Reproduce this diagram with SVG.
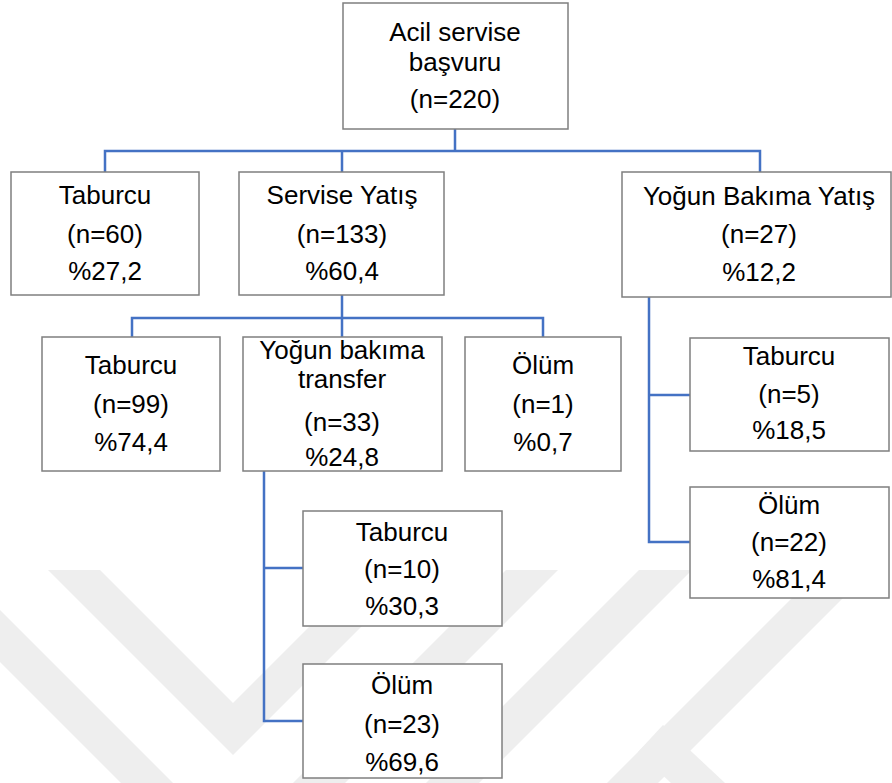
<svg xmlns="http://www.w3.org/2000/svg" width="892" height="783" viewBox="0 0 892 783">
<style>
.wm{fill:#eeeeee;stroke:none}
.box{fill:#ffffff;stroke:#7f7f7f;stroke-width:1.5}
.lbl{font-family:"Liberation Sans",Arial,sans-serif;font-size:26px;fill:#000000;text-anchor:middle}
.con{fill:none;stroke:#4472C4;stroke-width:2.5;stroke-linecap:square}
</style>
<rect x="0" y="0" width="892" height="783" fill="#ffffff"/>
<g id="watermark">
<polygon class="wm" points="48,570 100,570 233,703 366,570 418,570 233,755"/>
<polygon class="wm" points="-92,570 -40,570 233,843 506,570 558,570 233,895"/>
<polygon class="wm" points="639,570 692,570 479,783 426,783"/>
<polygon class="wm" points="800,590 851,590 658,783 607,783"/>
<polygon class="wm" points="663,725 725,783 671,783 638,752"/>
</g>
<g id="connectors">
<path class="con" d="M455,129 V151 M105,151 H760 M105,151 V172 M342,151 V172 M760,151 V172"/>
<path class="con" d="M342,295 V318 M132,318 H543 M132,318 V337 M342,318 V337 M543,318 V337"/>
<path class="con" d="M264,470 V721 M264,568 H303 M264,721 H303"/>
<path class="con" d="M649,297 V542 M649,395 H690 M649,542 H690"/>
</g>
<g id="root">
<rect class="box" x="343" y="3" width="225" height="126"/>
<text class="lbl" x="455" y="41">Acil servise</text>
<text class="lbl" x="455" y="71">başvuru</text>
<text class="lbl" x="455" y="108">(n=220)</text>
</g>
<g id="taburcu60">
<rect class="box" x="11" y="172" width="188" height="123"/>
<text class="lbl" x="105" y="204">Taburcu</text>
<text class="lbl" x="105" y="243">(n=60)</text>
<text class="lbl" x="105" y="280">%27,2</text>
</g>
<g id="servise">
<rect class="box" x="239" y="172" width="205" height="123"/>
<text class="lbl" x="342" y="204">Servise Yatış</text>
<text class="lbl" x="342" y="243">(n=133)</text>
<text class="lbl" x="342" y="280">%60,4</text>
</g>
<g id="yogunbakim">
<rect class="box" x="622" y="172" width="269" height="125"/>
<text class="lbl" x="759" y="205">Yoğun Bakıma Yatış</text>
<text class="lbl" x="759" y="243">(n=27)</text>
<text class="lbl" x="759" y="281">%12,2</text>
</g>
<g id="taburcu99">
<rect class="box" x="42" y="337" width="178" height="134"/>
<text class="lbl" x="131" y="374">Taburcu</text>
<text class="lbl" x="131" y="413">(n=99)</text>
<text class="lbl" x="131" y="451">%74,4</text>
</g>
<g id="ybtransfer">
<rect class="box" x="243" y="337" width="199" height="134"/>
<text class="lbl" x="342" y="359">Yoğun bakıma</text>
<text class="lbl" x="342" y="388">transfer</text>
<text class="lbl" x="342" y="431">(n=33)</text>
<text class="lbl" x="342" y="466">%24,8</text>
</g>
<g id="olum1">
<rect class="box" x="465" y="337" width="156" height="134"/>
<text class="lbl" x="543" y="374">Ölüm</text>
<text class="lbl" x="543" y="413">(n=1)</text>
<text class="lbl" x="543" y="451">%0,7</text>
</g>
<g id="taburcu10">
<rect class="box" x="303" y="511" width="199" height="115"/>
<text class="lbl" x="402" y="541">Taburcu</text>
<text class="lbl" x="402" y="578">(n=10)</text>
<text class="lbl" x="402" y="615">%30,3</text>
</g>
<g id="olum23">
<rect class="box" x="303" y="664" width="199" height="114"/>
<text class="lbl" x="402" y="694">Ölüm</text>
<text class="lbl" x="402" y="733">(n=23)</text>
<text class="lbl" x="402" y="771">%69,6</text>
</g>
<g id="taburcu5">
<rect class="box" x="690" y="338" width="199" height="113"/>
<text class="lbl" x="789" y="365">Taburcu</text>
<text class="lbl" x="789" y="403">(n=5)</text>
<text class="lbl" x="789" y="439">%18,5</text>
</g>
<g id="olum22">
<rect class="box" x="690" y="487" width="199" height="111"/>
<text class="lbl" x="789" y="514">Ölüm</text>
<text class="lbl" x="789" y="551">(n=22)</text>
<text class="lbl" x="789" y="588">%81,4</text>
</g>
</svg>
